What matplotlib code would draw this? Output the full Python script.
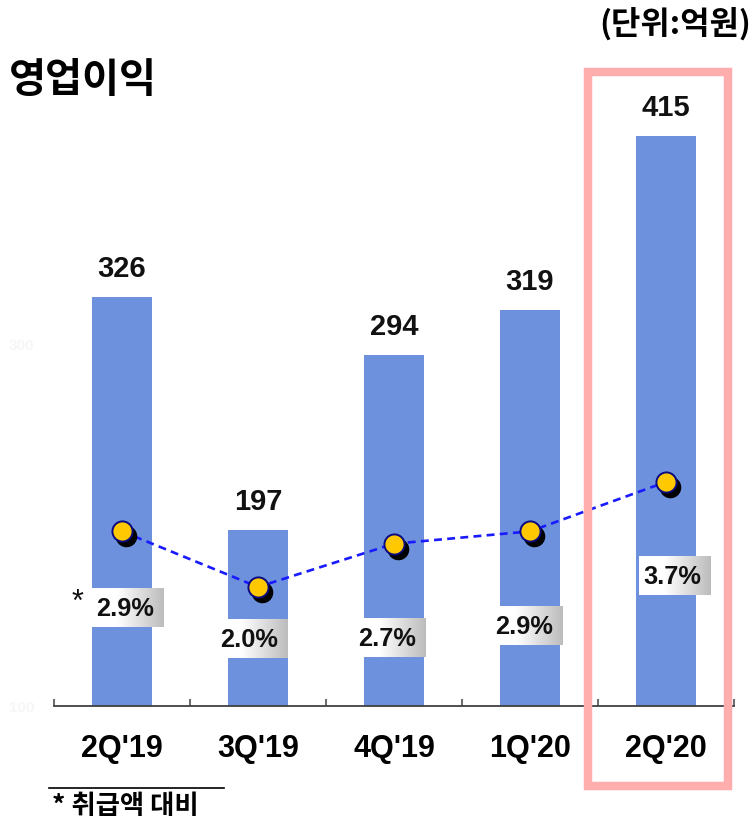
import matplotlib
matplotlib.use("Agg")
import matplotlib.pyplot as plt
import numpy as np
from matplotlib.colors import LinearSegmentedColormap
from matplotlib.patches import Rectangle
from matplotlib.transforms import offset_copy

quarters = ["2Q'19", "3Q'19", "4Q'19", "1Q'20", "2Q'20"]
operating_profit = [326, 197, 294, 319, 415]
margin_pct = [2.9, 2.0, 2.7, 2.9, 3.7]
margin_labels = ["2.9%", "2.0%", "2.7%", "2.9%", "3.7%"]
faint_ticks = [100, 300]

# where each margin label sits relative to its marker (pixels)
label_offsets = [(3, -78), (-9, -53), (-7, -95), (-6, -96), (6, -95)]

num_font = "Liberation Sans"
kr_font = ["Noto Sans CJK KR", "DejaVu Sans"]
bar_color = "#6d91dc"

fig = plt.figure(figsize=(7.54, 8.21), dpi=100)
ax = fig.add_axes([54 / 754, 115 / 821, 680 / 754, 636 / 821])
ax2 = ax.twinx()

x = np.arange(len(quarters))
ax.bar(x, operating_profit, width=0.434, color=bar_color, zorder=2)
ax.set_xlim(-0.5, len(quarters) - 0.5)
ax.set_ylim(100, 451.4)

for xi, v in zip(x, operating_profit):
    ax.annotate(f"{v}", (xi, v), xytext=(0, 20), textcoords="offset pixels",
                ha="center", va="baseline", fontsize=21, fontweight="bold",
                family=num_font, color="#111111")

for side in ["left", "right", "top"]:
    ax.spines[side].set_visible(False)
    ax2.spines[side].set_visible(False)
ax2.spines["bottom"].set_visible(False)
ax.spines["bottom"].set_color("#404040")
ax.spines["bottom"].set_linewidth(1.3)

# boundary ticks pointing up, category names on minor ticks
ax.set_xticks(np.arange(-0.5, len(quarters), 1.0))
ax.set_xticklabels([])
ax.tick_params(axis="x", which="major", direction="in", length=5, width=1.1, color="#404040")
ax.set_xticks(x, minor=True)
ax.set_xticklabels(quarters, minor=True, fontsize=22, fontweight="bold", family=num_font)
ax.tick_params(axis="x", which="minor", length=0, pad=20)

# almost invisible value ticks on the left, as in the source slide
ax.set_yticks(faint_ticks)
ax.set_yticklabels([str(t) for t in faint_ticks], fontsize=11, color="#f6f6f6",
                   family=num_font, fontweight="bold")
ax.tick_params(axis="y", length=0, pad=14)
ax2.set_yticks([])

ax2.set_ylim(0.074, 10.366)
ax2.plot(x, margin_pct, linestyle=(0, (3, 2)), color="#1a1aff", lw=1.9, zorder=3)
shadow = offset_copy(ax2.transData, fig=fig, x=4, y=-5, units="dots")
ax2.plot(x, margin_pct, linestyle="none", marker="o", markersize=14.5,
         color="black", transform=shadow, zorder=4)
ax2.plot(x, margin_pct, linestyle="none", marker="o", markersize=14.5,
         markerfacecolor="#ffc800", markeredgecolor="#0a0a80", markeredgewidth=1.4, zorder=5)

pct_texts = []
for xi, v, lab, (dx, dy) in zip(x, margin_pct, margin_labels, label_offsets):
    t = ax2.annotate(lab, (xi, v), xytext=(dx, dy), textcoords="offset pixels",
                     ha="center", va="center", fontsize=18.3, fontweight="bold",
                     family=num_font, color="#111111", zorder=7)
    pct_texts.append(t)

ax2.annotate("*", (x[0], margin_pct[0]), xytext=(-44, -72), textcoords="offset pixels",
             ha="center", va="center", fontsize=22, family=num_font, color="#111111")

# grey gradient boxes behind the margin labels
fig.canvas.draw()
renderer = fig.canvas.get_renderer()
grad_cmap = LinearSegmentedColormap.from_list(
    "box", [(0, "#ffffff"), (0.35, "#ffffff"), (1, "#bcbcbc")])
grad = np.linspace(0, 1, 256).reshape(1, -1)
inv = ax2.transData.inverted()
for t in pct_texts:
    bb = t.get_window_extent(renderer)
    (x0, y0) = inv.transform((bb.x0 - 4, bb.y0 - 6))
    (x1, y1) = inv.transform((bb.x1 + 10, bb.y1 + 9))
    ax2.imshow(grad, cmap=grad_cmap, extent=(x0, x1, y0, y1), aspect="auto",
               interpolation="bilinear", zorder=6)
ax2.set_xlim(-0.5, len(quarters) - 0.5)
ax2.set_ylim(0.074, 10.366)

fig.text(9 / 754, 1 - 80 / 821, "영업이익", family=kr_font, fontsize=29,
         fontweight="bold", va="center", ha="left")
fig.text(751 / 754, 1 - 24 / 821, "(단위:억원)", family=kr_font, fontsize=23,
         fontweight="bold", va="center", ha="right")

fig.add_artist(Rectangle((587.5 / 754, 35 / 821), 140 / 754, 714 / 821,
                         transform=fig.transFigure, fill=False,
                         edgecolor="#ffadad", linewidth=6.1, zorder=10))

fig.add_artist(plt.Line2D([49 / 754, 224 / 754], [1 - 788 / 821, 1 - 788 / 821],
                          transform=fig.transFigure, color="black", lw=1.2))
fig.text(52 / 754, 1 - 806 / 821, "* 취급액 대비", family=kr_font, fontsize=19,
         fontweight="bold", va="center", ha="left")

fig.savefig("out.png", dpi=100)
